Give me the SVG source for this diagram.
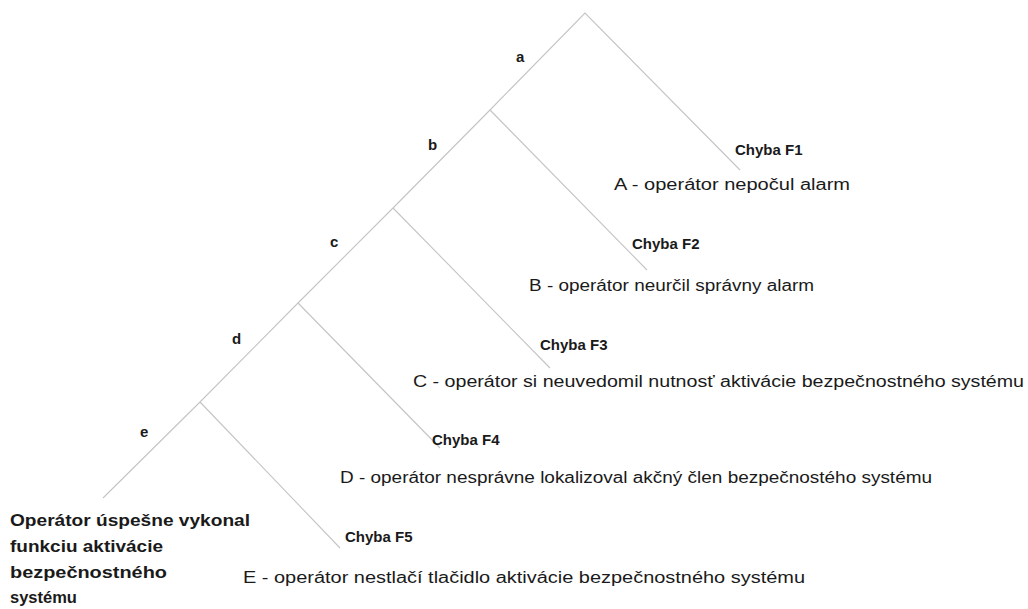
<svg xmlns="http://www.w3.org/2000/svg" width="1028" height="609" viewBox="0 0 1028 609">
  <style>
    .ln { stroke: #c4c4c4; stroke-width: 1.1; fill: none; }
    .lbl { font-family: "Liberation Sans", Arial, sans-serif; font-size: 15px; font-weight: bold; fill: #1a1a1a; }
    .err { font-family: "Liberation Sans", Arial, sans-serif; font-size: 15px; font-weight: bold; fill: #1a1a1a; }
    .ok { font-family: "Liberation Sans", Arial, sans-serif; font-size: 16.5px; font-weight: bold; fill: #1a1a1a; }
    .desc { font-family: "Liberation Sans", Arial, sans-serif; font-size: 16px; fill: #1a1a1a; }
  </style>
  <rect width="1028" height="609" fill="#ffffff"/>

  <!-- event tree branches -->
  <g id="connectors">
    <polyline class="ln" points="103,498 200,402 298,303 393,208 490,110 585,13 740,170"/>
    <line class="ln" x1="490" y1="110" x2="647" y2="270"/>
    <line class="ln" x1="393" y1="208" x2="550" y2="368"/>
    <line class="ln" x1="298" y1="303" x2="440" y2="448"/>
    <line class="ln" x1="200" y1="402" x2="340" y2="548"/>
  </g>

  <!-- branch labels -->
  <g id="branch-a"><text class="lbl" x="516" y="62">a</text></g>
  <g id="branch-b"><text class="lbl" x="428" y="150">b</text></g>
  <g id="branch-c"><text class="lbl" x="330" y="247">c</text></g>
  <g id="branch-d"><text class="lbl" x="232" y="344">d</text></g>
  <g id="branch-e"><text class="lbl" x="140" y="437">e</text></g>

  <!-- failure outcomes -->
  <g id="f1">
    <text class="err" x="735" y="155">Chyba F1</text>
    <text class="desc" x="614" y="190" textLength="236" lengthAdjust="spacingAndGlyphs">A - operátor nepočul alarm</text>
  </g>
  <g id="f2">
    <text class="err" x="632" y="249">Chyba F2</text>
    <text class="desc" x="529" y="291" textLength="285" lengthAdjust="spacingAndGlyphs">B - operátor neurčil správny alarm</text>
  </g>
  <g id="f3">
    <text class="err" x="540" y="350">Chyba F3</text>
    <text class="desc" x="413" y="387" textLength="611" lengthAdjust="spacingAndGlyphs">C - operátor si neuvedomil nutnosť aktivácie bezpečnostného systému</text>
  </g>
  <g id="f4">
    <text class="err" x="432" y="445">Chyba F4</text>
    <text class="desc" x="340" y="483" textLength="592" lengthAdjust="spacingAndGlyphs">D - operátor nesprávne lokalizoval akčný člen bezpečnostého systému</text>
  </g>
  <g id="f5">
    <text class="err" x="345" y="542">Chyba F5</text>
    <text class="desc" x="243" y="583" textLength="562" lengthAdjust="spacingAndGlyphs">E - operátor nestlačí tlačidlo aktivácie bezpečnostného systému</text>
  </g>

  <!-- success outcome -->
  <g id="success">
    <text class="ok" x="10" y="526" textLength="240" lengthAdjust="spacingAndGlyphs">Operátor úspešne vykonal</text>
    <text class="ok" x="10" y="552" textLength="153" lengthAdjust="spacingAndGlyphs">funkciu aktivácie</text>
    <text class="ok" x="10" y="578" textLength="157" lengthAdjust="spacingAndGlyphs">bezpečnostného</text>
    <text class="ok" x="10" y="603">systému</text>
  </g>
</svg>
